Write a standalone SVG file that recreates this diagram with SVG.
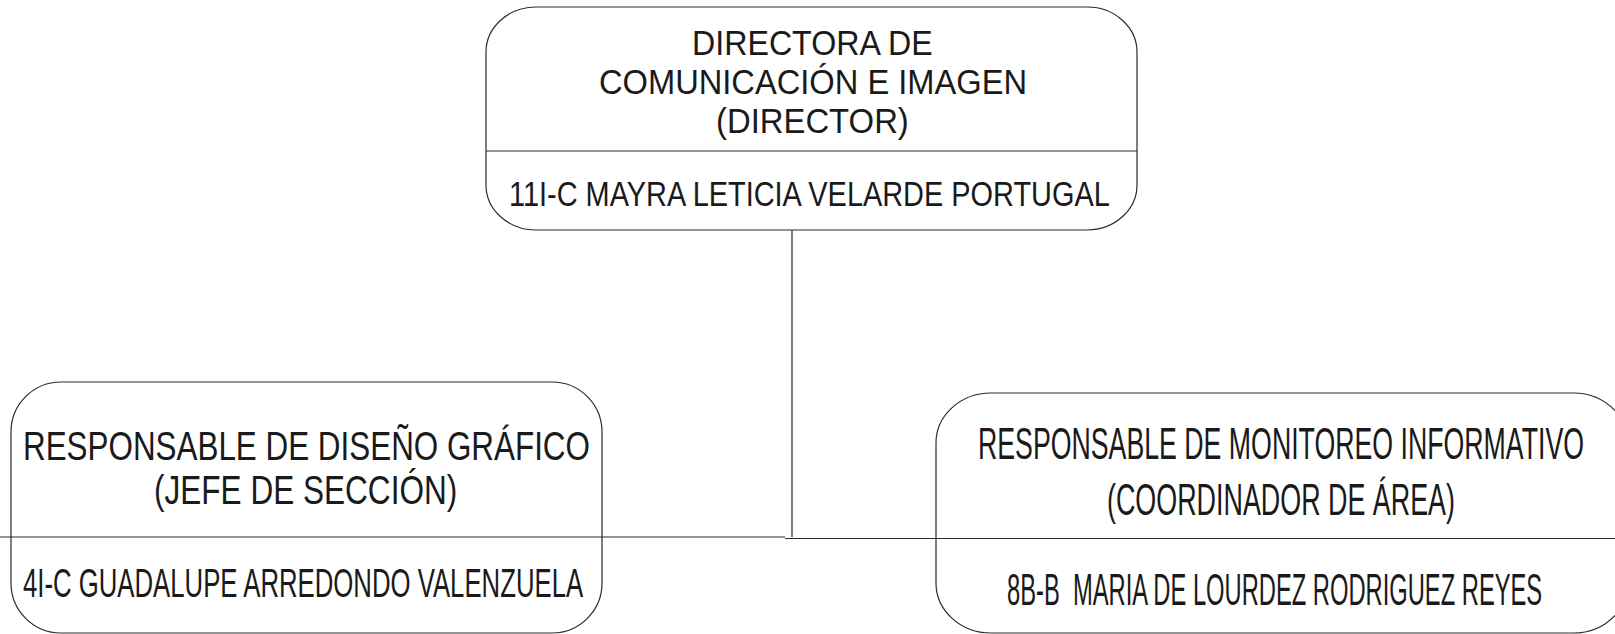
<svg xmlns="http://www.w3.org/2000/svg" width="1615" height="634" viewBox="0 0 1615 634">
<style>
.box{fill:#fff;stroke:#2a2a2a;stroke-width:1.2}
.ln{stroke:#2a2a2a;stroke-width:1.2;fill:none}
text{font-family:"Liberation Sans",Arial,sans-serif;fill:#1a1a1a}
.t1{font-size:35px}
.t2{font-size:41px}
.t3{font-size:44px}
</style>
<rect width="1615" height="634" fill="#fff"/>
<g id="connectors">
<line class="ln" x1="792" y1="230" x2="792" y2="537"/>
</g>
<g id="node-director">
<rect class="box" x="486" y="7" width="651" height="223" rx="50" ry="45"/>
<line class="ln" x1="486" y1="151" x2="1137" y2="151"/>
<text class="t1" transform="translate(692,55) scale(0.8,1)" textLength="301" lengthAdjust="spacingAndGlyphs">DIRECTORA DE</text>
<text class="t1" transform="translate(599,94) scale(0.8,1)" textLength="535" lengthAdjust="spacingAndGlyphs">COMUNICACIÓN E IMAGEN</text>
<text class="t1" transform="translate(716,133) scale(0.8,1)" textLength="241" lengthAdjust="spacingAndGlyphs">(DIRECTOR)</text>
<text class="t1" transform="translate(509,206) scale(0.8,1)" textLength="751" lengthAdjust="spacingAndGlyphs">11I-C MAYRA LETICIA VELARDE PORTUGAL</text>
</g>
<g id="node-diseno">
<rect class="box" x="11" y="382" width="591" height="251" rx="50" ry="50"/>
<line class="ln" x1="0" y1="537" x2="785" y2="537"/>
<text class="t2" transform="translate(23,460) scale(0.76,1)" textLength="746" lengthAdjust="spacingAndGlyphs">RESPONSABLE DE DISEÑO GRÁFICO</text>
<text class="t2" transform="translate(154,504) scale(0.76,1)" textLength="399" lengthAdjust="spacingAndGlyphs">(JEFE DE SECCIÓN)</text>
<text class="t2" transform="translate(23,597) scale(0.76,1)" textLength="737" lengthAdjust="spacingAndGlyphs">4I-C GUADALUPE ARREDONDO VALENZUELA</text>
</g>
<g id="node-monitoreo">
<path class="box" d="M1615,410.7 A55,50 0 0 0 1573,393 H991 A55,50 0 0 0 936,443 V583 A55,50 0 0 0 991,633 H1573 A55,50 0 0 0 1615,615.3"/>
<line class="ln" x1="785" y1="538.5" x2="1615" y2="538.5"/>
<text class="t3" transform="translate(978,459) scale(0.6,1)" textLength="1010" lengthAdjust="spacingAndGlyphs">RESPONSABLE DE MONITOREO INFORMATIVO</text>
<text class="t3" transform="translate(1107,515) scale(0.6,1)" textLength="580" lengthAdjust="spacingAndGlyphs">(COORDINADOR DE ÁREA)</text>
<text class="t3" transform="translate(1007,605) scale(0.6,1)" textLength="892" lengthAdjust="spacingAndGlyphs" xml:space="preserve">8B-B  MARIA DE LOURDEZ RODRIGUEZ REYES</text>
</g>
</svg>
